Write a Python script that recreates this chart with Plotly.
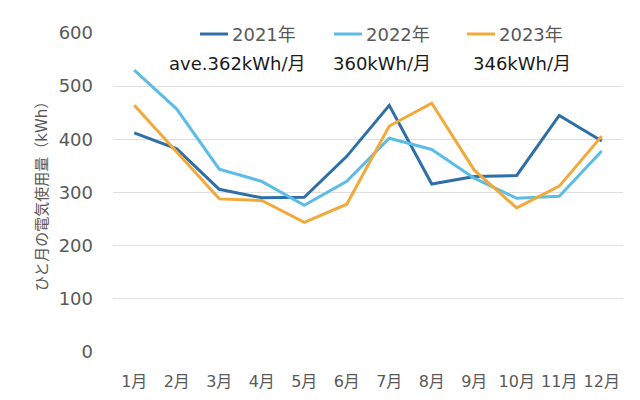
import plotly.graph_objects as go

months = ["1月", "2月", "3月", "4月", "5月", "6月", "7月", "8月", "9月", "10月", "11月", "12月"]
y2021 = [412, 382, 306, 290, 291, 368, 464, 316, 330, 332, 445, 397]
y2022 = [530, 457, 344, 321, 276, 321, 402, 381, 327, 289, 293, 378]
y2023 = [464, 376, 288, 285, 244, 278, 425, 468, 342, 271, 312, 406]
series_names = ["2021年", "2022年", "2023年"]
avg_labels = ["ave.362kWh/月", "360kWh/月", "346kWh/月"]
y_ticks = [0, 100, 200, 300, 400, 500, 600]

colors = ["#2E6FA8", "#5BBDE6", "#F2A93B"]
FONT = "DejaVu Sans, Noto Sans CJK JP, sans-serif"
GRAY = "#595959"

# plot area in page pixels (page adds an 8px body margin)
OFF = 8
L, R, T, B = 113, 623, 33, 352
W, H = R - L, B - T


def px_x(px):
    return (px - L) / W


def px_y(py):
    return (B - py) / H


fig = go.Figure()
for name, ys, c in zip(series_names, [y2021, y2022, y2023], colors):
    fig.add_trace(go.Scatter(x=months, y=ys, name=name, mode="lines",
                             line=dict(color=c, width=3), showlegend=False))

# legend background (hides gridline behind legend)
fig.add_shape(type="rect", xref="paper", yref="paper", layer="above",
              x0=px_x(160), x1=px_x(600), y0=px_y(44), y1=px_y(24),
              fillcolor="white", line=dict(width=0))

leg_line_x = [200, 334, 467]
ann_x = [237, 382, 522]
for name, c, lx, lab, ax in zip(series_names, colors, leg_line_x, avg_labels, ann_x):
    fig.add_shape(type="line", xref="paper", yref="paper", layer="above",
                  x0=px_x(lx), x1=px_x(lx + 28), y0=px_y(34), y1=px_y(34),
                  line=dict(color=c, width=3))
    fig.add_annotation(text=name, x=px_x(lx + 30), y=px_y(34), xref="paper", yref="paper",
                       xanchor="left", yanchor="middle", showarrow=False,
                       font=dict(size=18, color=GRAY, family=FONT))
    fig.add_annotation(text=lab, x=px_x(ax), y=px_y(64), xref="paper", yref="paper",
                       xanchor="center", yanchor="middle", showarrow=False,
                       font=dict(size=18, color="#1a1a1a", family=FONT))

fig.update_layout(
    width=640, height=400,
    margin=dict(l=L - OFF, r=640 - R + OFF, t=T - OFF, b=400 - B + OFF, autoexpand=False),
    paper_bgcolor="white", plot_bgcolor="white",
    font=dict(family=FONT, color=GRAY, size=18),
    showlegend=False,
    xaxis=dict(range=[-0.5, 11.5], showgrid=False, showline=False, ticks="", tickangle=0,
               tickfont=dict(size=16, color=GRAY), ticklabelstandoff=18, automargin=False),
    yaxis=dict(range=[0, 600], tickvals=y_ticks, showgrid=True, gridcolor="#DEDEDE", gridwidth=1,
               zeroline=False, showline=False, ticks="", ticklabelstandoff=19,
               tickfont=dict(size=18, color=GRAY), automargin=False,
               title=dict(text="ひと月の電気使用量（kWh）", font=dict(size=15, color=GRAY), standoff=7)),
)
fig.write_html("out.html")
